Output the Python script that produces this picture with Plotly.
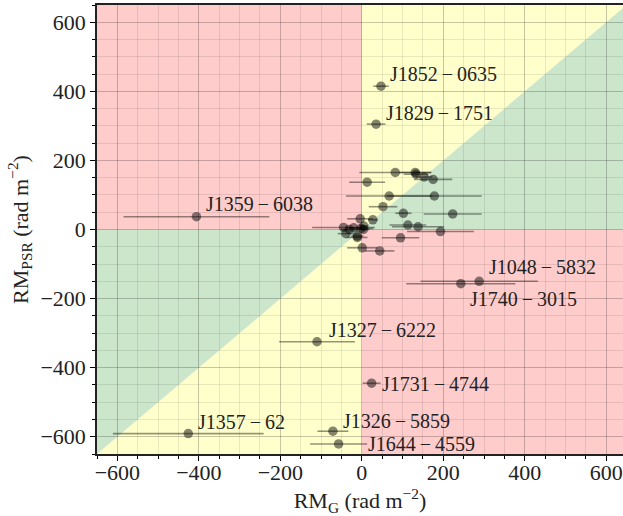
import plotly.graph_objects as go

# Labelled pulsars
lab_names = ["J1852\u2009\u2212\u20090635", "J1829\u2009\u2212\u20091751", "J1359\u2009\u2212\u20096038",
             "J1357\u2009\u2212\u200962", "J1327\u2009\u2212\u20096222", "J1731\u2009\u2212\u20094744",
             "J1326\u2009\u2212\u20095859", "J1644\u2009\u2212\u20094559", "J1048\u2009\u2212\u20095832",
             "J1740\u2009\u2212\u20093015"]
lab_rmg = [47, 35, -406, -426, -110, 24, -71, -57, 288, 243]
lab_rmpsr = [415, 305, 37, -591, -325, -445, -584, -621, -150, -157]
lab_err = [19, 23, 179, 185, 93, 22, 38, 70, 144, 134]
# label text anchor positions (data units)
lab_tx = [64, 54, -387, -407, -86, 45, -52, 9, 308, 261]
lab_ty = [450, 338, 75, -558, -290, -448, -553, -622, -110, -200]

# Unlabelled pulsars
rmg = [82, 131, 133, 153, 175, 13, 67, 178, 52, 102, 223, -4, 27, 113, 138, 193,
       95, -11, 1, 44, -45, -31, -2, 4, -11, -39, -20, 5]
rmpsr = [165, 165, 160, 152, 145, 137, 97, 97, 66, 47, 45, 31, 28, 13, 8, -6,
         -24, -23, -53, -62, 6, 0, 3, 0, -19, -12, 5, 10]
rmg_err = [88, 40, 30, 20, 47, 44, 106, 116, 35, 20, 71, 32, 12, 45, 64, 82,
           46, 25, 37, 36, 77, 20, 30, 15, 15, 20, 20, 10]

XR = [-650, 641]
YR = [-650, 650]

all_x = lab_rmg + rmg
all_y = lab_rmpsr + rmpsr
all_e = lab_err + rmg_err

FONT = "Liberation Serif"

fig = go.Figure()
fig.add_trace(go.Scatter(
    x=all_x, y=all_y, mode="markers",
    marker=dict(size=9.5, color="rgba(0,0,0,0.48)", line=dict(width=0)),
    error_x=dict(type="data", array=all_e, visible=True, color="rgba(0,0,0,0.42)",
                 thickness=1.6, width=0),
    showlegend=False, hoverinfo="skip"))

L = 700
red = "rgba(255,0,0,0.2)"
yel = "rgba(255,255,0,0.2)"
grn = "rgba(0,128,0,0.2)"
shapes = [
    dict(type="rect", x0=-L, x1=0, y0=0, y1=L, fillcolor=red),
    dict(type="rect", x0=0, x1=L, y0=-L, y1=0, fillcolor=red),
    dict(type="path", path=f"M 0 0 L 0 {L} L {L} {L} Z", fillcolor=yel),
    dict(type="path", path=f"M 0 0 L {L} {L} L {L} 0 Z", fillcolor=grn),
    dict(type="path", path=f"M 0 0 L 0 {-L} L {-L} {-L} Z", fillcolor=yel),
    dict(type="path", path=f"M 0 0 L {-L} {-L} L {-L} 0 Z", fillcolor=grn),
]
for s in shapes:
    s.update(xref="x", yref="y", layer="below", line=dict(width=0))
fig.update_layout(shapes=shapes)

annotations = []
for n, tx, ty in zip(lab_names, lab_tx, lab_ty):
    annotations.append(dict(x=tx, y=ty, text=n, showarrow=False, xanchor="left",
                            yanchor="middle", xref="x", yref="y",
                            font=dict(family=FONT, size=20, color="#222")))
fig.update_layout(annotations=annotations)

axis_common = dict(
    showgrid=True, gridcolor="rgba(0,0,0,0.22)", gridwidth=1,
    dtick=200, tick0=0, ticks="outside", ticklen=5, tickwidth=1, tickcolor="black",
    showline=True, linecolor="#222", linewidth=1.5, zeroline=False,
    tickfont=dict(family=FONT, size=22, color="#222"),
    minor=dict(dtick=50, tick0=0, showgrid=True, gridcolor="rgba(0,0,0,0.09)",
               gridwidth=1, ticks="outside", ticklen=3, tickcolor="black"),
)

fig.update_xaxes(range=XR, mirror=True, ticklabelstandoff=-7, **axis_common,
                 title=dict(text="RM<sub>G</sub> (rad m<sup>\u22122</sup>)",
                            font=dict(family=FONT, size=22, color="#222"), standoff=8))
fig.update_yaxes(range=YR, **axis_common,
                 title=dict(text="RM<sub>PSR</sub> (rad m<sup>\u22122</sup>)",
                            font=dict(family=FONT, size=22, color="#222"), standoff=6))

fig.update_layout(width=623, height=516, margin=dict(l=97, r=0, t=5, b=62),
                  plot_bgcolor="white", paper_bgcolor="white")

fig.write_html("out.html")
